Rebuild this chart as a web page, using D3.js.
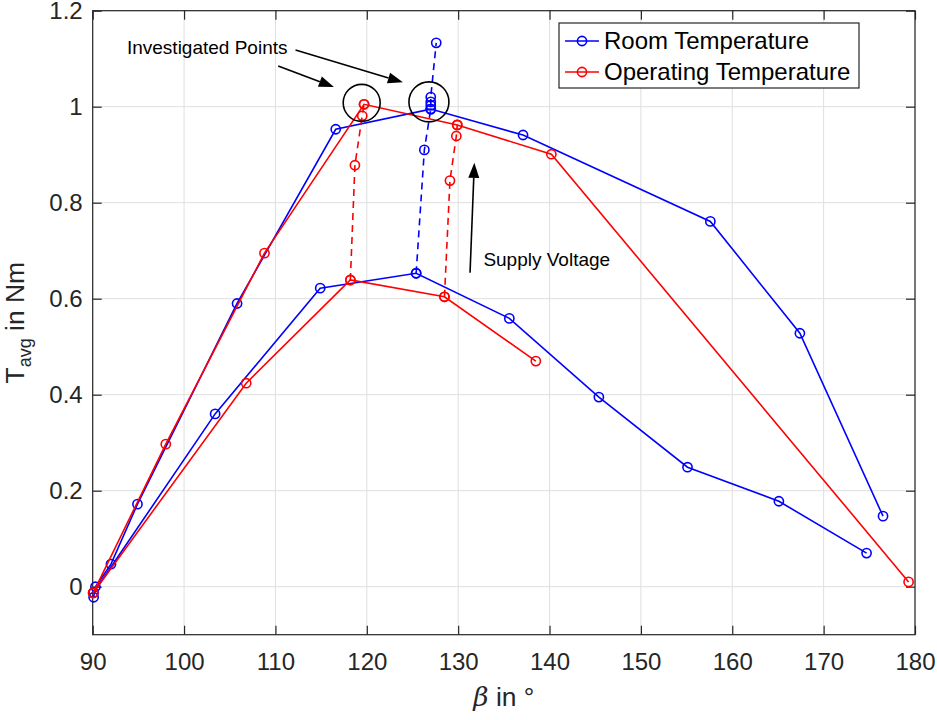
<!DOCTYPE html>
<html>
<head>
<meta charset="utf-8">
<script src="https://cdn.jsdelivr.net/npm/d3@7"></script>
<style>
  html, body { margin: 0; padding: 0; background: #fff; }
  svg { display: block; font-family: "Liberation Sans", Arial, Helvetica, sans-serif; }
</style>
</head>
<body>
<svg id="chart" width="937" height="720"></svg>
<script>
// Average torque over commutation angle, room vs. operating temperature
const xTicks = [90, 100, 110, 120, 130, 140, 150, 160, 170, 180];
const yTicks = [0, 0.2, 0.4, 0.6, 0.8, 1, 1.2];

// Room temperature, upper curve (higher supply voltage)
const roomHigh = [
  [90.1, -0.022], [90.3, 0.0], [92.0, 0.047], [94.9, 0.172], [105.8, 0.59],
  [116.6, 0.953], [127.0, 0.995], [137.1, 0.941], [157.6, 0.761],
  [167.4, 0.528], [176.5, 0.147]
];
// Room temperature, lower curve
const roomLow = [
  [90.1, -0.012], [103.4, 0.36], [114.9, 0.622], [125.4, 0.653],
  [135.6, 0.559], [145.4, 0.395], [155.1, 0.249], [165.1, 0.178], [174.7, 0.07]
];
// Room temperature, supply voltage sweep at the investigated point
const roomSweep = [
  [125.4, 0.653], [126.3, 0.91], [127.0, 0.995], [127.0, 1.003],
  [127.0, 1.01], [127.0, 1.02], [127.6, 1.133]
];

// Operating temperature, upper curve
const operHigh = [
  [90.05, -0.013], [98.0, 0.297], [108.8, 0.695], [119.7, 1.005],
  [129.9, 0.962], [140.2, 0.901], [179.3, 0.01]
];
// Operating temperature, lower curve
const operLow = [
  [90.05, -0.013], [106.8, 0.424], [118.2, 0.639], [128.5, 0.604], [138.5, 0.47]
];
// Operating temperature, supply voltage sweeps
const operSweepA = [[118.2, 0.639], [118.7, 0.878], [119.5, 0.981], [119.7, 1.005]];
const operSweepB = [[128.5, 0.604], [129.1, 0.846], [129.8, 0.939], [129.9, 0.962]];

// Annotations (data coordinates)
const noteText = { label: "Investigated Points", x: 93.75, y: 1.124 };
const noteArrows = [
  { from: [110.3, 1.085], to: [116.4, 1.041] },
  { from: [112.2, 1.118], to: [123.95, 1.051] }
];
const noteCircles = [
  { x: 119.44, y: 1.008, r: 18.5 },
  { x: 126.8, y: 1.010, r: 20 }
];
const voltArrow = { from: [131.3, 0.654], to: [131.77, 0.883] };
const voltText = { label: "Supply Voltage", x: 132.76, y: 0.683 };

const legendItems = [
  { name: "Room Temperature", color: "#0000ff" },
  { name: "Operating Temperature", color: "#ff0000" }
];

const BLUE = "#0000ff", RED = "#ff0000", AX = "#262626";

const svg = d3.select("#chart");
const x = d3.scaleLinear().domain([90, 180]).range([92.7, 915]);
const y = d3.scaleLinear().domain([-0.1, 1.2]).range([634.7, 10.7]);
const [x0, x1] = x.range();
const [y0, y1] = y.range();

// grid
const grid = svg.append("g").attr("stroke", "#dfdfdf").attr("stroke-width", 1);
grid.selectAll("line.gx").data(xTicks).join("line")
  .attr("x1", d => x(d)).attr("x2", d => x(d)).attr("y1", y0).attr("y2", y1);
grid.selectAll("line.gy").data(yTicks).join("line")
  .attr("x1", x0).attr("x2", x1).attr("y1", d => y(d)).attr("y2", d => y(d));

// axes
function styleAxis(g) {
  g.select(".domain").remove();
  g.selectAll(".tick line").attr("stroke", AX).attr("stroke-width", 1.2);
  g.selectAll(".tick text").attr("fill", AX).attr("font-size", 24)
    .attr("font-family", "Liberation Sans, Arial, sans-serif");
}
svg.append("g").attr("transform", `translate(0,${y0})`)
  .call(d3.axisBottom(x).tickValues(xTicks).tickFormat(d3.format("d"))
    .tickSizeInner(-9).tickSizeOuter(0).tickPadding(18))
  .call(styleAxis);
svg.append("g").attr("transform", `translate(0,${y1})`)
  .call(d3.axisTop(x).tickValues(xTicks).tickFormat("")
    .tickSizeInner(-9).tickSizeOuter(0))
  .call(styleAxis);
svg.append("g").attr("transform", `translate(${x0},0)`)
  .call(d3.axisLeft(y).tickValues(yTicks).tickFormat(d3.format("~g"))
    .tickSizeInner(-9).tickSizeOuter(0).tickPadding(10))
  .call(styleAxis);
svg.append("g").attr("transform", `translate(${x1},0)`)
  .call(d3.axisRight(y).tickValues(yTicks).tickFormat("")
    .tickSizeInner(-9).tickSizeOuter(0))
  .call(styleAxis);

svg.append("rect").attr("x", x0).attr("y", y1)
  .attr("width", x1 - x0).attr("height", y0 - y1)
  .attr("fill", "none").attr("stroke", AX).attr("stroke-width", 1.2);

// series
const line = d3.line().x(d => x(d[0])).y(d => y(d[1]));
function series(data, color, dashed) {
  const g = svg.append("g");
  g.append("path").datum(data).attr("d", line)
    .attr("fill", "none").attr("stroke", color).attr("stroke-width", 1.6)
    .attr("stroke-dasharray", dashed ? "7,5" : null);
  g.selectAll("circle").data(data).join("circle")
    .attr("cx", d => x(d[0])).attr("cy", d => y(d[1])).attr("r", 4.6)
    .attr("fill", "none").attr("stroke", color).attr("stroke-width", 1.6);
}
series(roomHigh, BLUE, false);
series(roomLow, BLUE, false);
series(roomSweep, BLUE, true);
series(operHigh, RED, false);
series(operLow, RED, false);
series(operSweepA, RED, true);
series(operSweepB, RED, true);

// annotations
function arrow(a) {
  const xa = x(a.from[0]), ya = y(a.from[1]), xb = x(a.to[0]), yb = y(a.to[1]);
  const ang = Math.atan2(yb - ya, xb - xa);
  const L = 15, W = 5.5;
  const bx = xb - L * Math.cos(ang), by = yb - L * Math.sin(ang);
  svg.append("line").attr("x1", xa).attr("y1", ya).attr("x2", bx).attr("y2", by)
    .attr("stroke", "#000").attr("stroke-width", 1.6);
  const px = -Math.sin(ang) * W, py = Math.cos(ang) * W;
  svg.append("path")
    .attr("d", `M${xb},${yb}L${bx + px},${by + py}L${bx - px},${by - py}Z`)
    .attr("fill", "#000");
}
noteArrows.forEach(arrow);
arrow(voltArrow);

svg.selectAll("circle.note").data(noteCircles).join("circle")
  .attr("class", "note")
  .attr("cx", d => x(d.x)).attr("cy", d => y(d.y)).attr("r", d => d.r)
  .attr("fill", "none").attr("stroke", "#000").attr("stroke-width", 1.6);

[noteText, voltText].forEach(t => {
  svg.append("text").attr("x", x(t.x)).attr("y", y(t.y))
    .attr("dy", "0.35em").attr("font-size", 19).attr("fill", "#000")
    .text(t.label);
});

// axis labels
svg.append("text").attr("x", (x0 + x1) / 2).attr("y", 706)
  .attr("text-anchor", "middle").attr("font-size", 26.4).attr("fill", AX)
  .call(t => {
    t.append("tspan").attr("font-style", "italic")
      .attr("font-family", "DejaVu Serif, serif").text("β");
    t.append("tspan").text(" in °");
  });

svg.append("text")
  .attr("transform", `translate(24,${(y0 + y1) / 2}) rotate(-90)`)
  .attr("text-anchor", "middle").attr("font-size", 26.4).attr("fill", AX)
  .call(t => {
    t.append("tspan").text("T");
    t.append("tspan").attr("font-size", 18).attr("dy", 7).text("avg");
    t.append("tspan").attr("dy", -7).text(" in Nm");
  });

// legend
const lg = svg.append("g");
lg.append("rect").attr("x", 559).attr("y", 23).attr("width", 300).attr("height", 65)
  .attr("fill", "#fff").attr("stroke", AX).attr("stroke-width", 1.2);
legendItems.forEach((d, i) => {
  const yy = 41 + i * 31;
  lg.append("line").attr("x1", 565).attr("x2", 599).attr("y1", yy).attr("y2", yy)
    .attr("stroke", d.color).attr("stroke-width", 1.6);
  lg.append("circle").attr("cx", 582).attr("cy", yy).attr("r", 4.6)
    .attr("fill", "none").attr("stroke", d.color).attr("stroke-width", 1.6);
  lg.append("text").attr("x", 604).attr("y", yy).attr("dy", "0.35em")
    .attr("font-size", 24).attr("fill", "#000").text(d.name);
});
</script>
</body>
</html>
